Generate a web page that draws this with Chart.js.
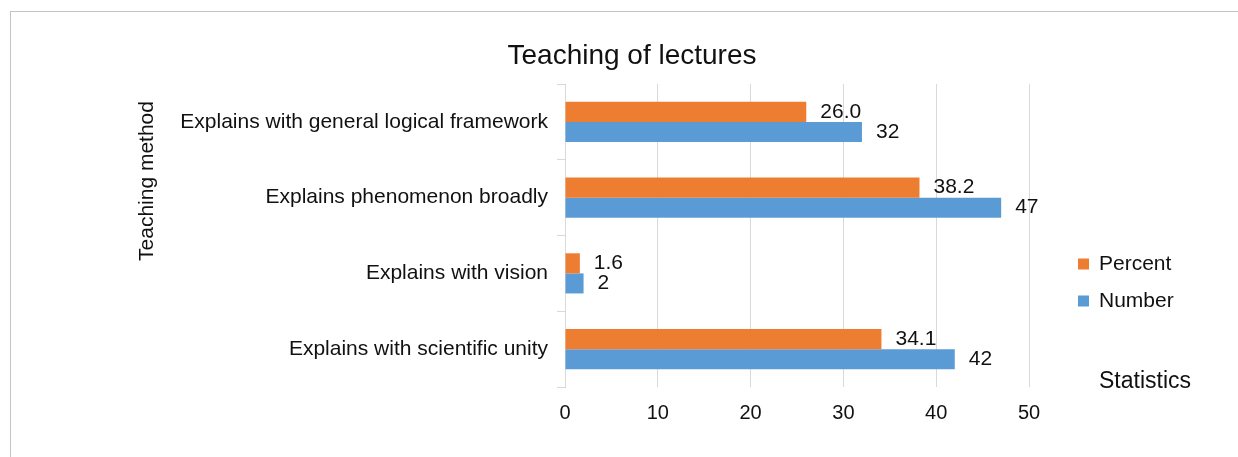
<!DOCTYPE html>
<html>
<head>
<meta charset="utf-8">
<script src="https://cdn.jsdelivr.net/npm/chart.js@4.4.1/dist/chart.umd.min.js"></script>
<style>
  html, body { margin: 0; padding: 0; background: #fff; overflow: hidden; }
  #frame {
    position: absolute; left: 10px; top: 11px;
    border-left: 1px solid #c4c4c4; border-top: 1px solid #c4c4c4;
  }
  canvas { display: block; }
</style>
</head>
<body>
<div id="frame"><canvas id="chart" width="1242" height="460"></canvas></div>
<script>
const categories = [
  "Explains with general logical framework",
  "Explains phenomenon broadly",
  "Explains with vision",
  "Explains with scientific unity",
];
const percentValues = [26.0, 38.2, 1.6, 34.1];
const numberValues = [32, 47, 2, 42];
const xTicks = [0, 10, 20, 30, 40, 50];

const FONT = "'Liberation Sans', Arial, sans-serif";
Chart.defaults.font.family = FONT;
Chart.defaults.color = "#111";

/************ LABELS, LEGEND, TITLES ************/
const extras = {
  id: "extras",
  afterDatasetsDraw(chart) {
    const ctx = chart.ctx;
    ctx.save();
    ctx.fillStyle = "#111";
    ctx.textBaseline = "middle";
    ctx.textAlign = "left";
    ctx.font = "21px " + FONT;

    // value labels next to each bar
    chart.data.datasets.forEach((ds, i) => {
      chart.getDatasetMeta(i).data.forEach((bar, j) => {
        const v = ds.data[j];
        const txt = i === 0 ? v.toFixed(1) : String(v);
        ctx.fillText(txt, bar.x + 14, bar.y);
      });
    });

    // legend
    chart.data.datasets.forEach((ds, i) => {
      const y = 252 + i * 37;
      ctx.fillStyle = ds.backgroundColor;
      ctx.fillRect(1067, y - 5.5, 11, 11);
      ctx.fillStyle = "#111";
      ctx.fillText(ds.label, 1088, y);
    });

    // axis titles
    ctx.font = "23px " + FONT;
    ctx.fillText("Statistics", 1088, 370);

    ctx.save();
    ctx.font = "21px " + FONT;
    ctx.translate(136, 169);
    ctx.rotate(-Math.PI / 2);
    ctx.textAlign = "center";
    ctx.fillText("Teaching method", 0, 0);
    ctx.restore();

    // chart title
    ctx.font = "28px " + FONT;
    ctx.textAlign = "center";
    ctx.textBaseline = "alphabetic";
    ctx.fillText("Teaching of lectures", chart.width / 2, 52);
    ctx.restore();
  },
};

new Chart(document.getElementById("chart"), {
  type: "bar",
  data: {
    labels: categories,
    datasets: [
      {
        label: "Percent",
        data: percentValues,
        backgroundColor: "#ED7D31",
        categoryPercentage: 0.53,
        barPercentage: 1.0,
      },
      {
        label: "Number",
        data: numberValues,
        backgroundColor: "#5B9BD5",
        categoryPercentage: 0.53,
        barPercentage: 1.0,
      },
    ],
  },
  options: {
    indexAxis: "y",
    responsive: false,
    animation: false,
    layout: { padding: { left: 0, top: 72, right: 224, bottom: 0 } },
    plugins: {
      legend: { display: false },
      title: { display: false },
      tooltip: { enabled: false },
    },
    scales: {
      x: {
        min: 0,
        max: 50,
        afterBuildTicks: (scale) => {
          scale.ticks = xTicks.map((v) => ({ value: v }));
        },
        afterFit: (scale) => {
          scale.height = 85;
        },
        grid: { color: "#d9d9d9", drawTicks: false },
        border: { display: false },
        ticks: { padding: 14, font: { size: 20 }, color: "#111" },
      },
      y: {
        afterFit: (scale) => {
          scale.width = 554;
        },
        grid: {
          drawOnChartArea: false,
          drawTicks: true,
          tickLength: 8,
          color: "#d9d9d9",
        },
        border: { display: true, color: "#d9d9d9" },
        ticks: { padding: 9, font: { size: 21 }, color: "#111" },
      },
    },
  },
  plugins: [extras],
});
</script>
</body>
</html>
